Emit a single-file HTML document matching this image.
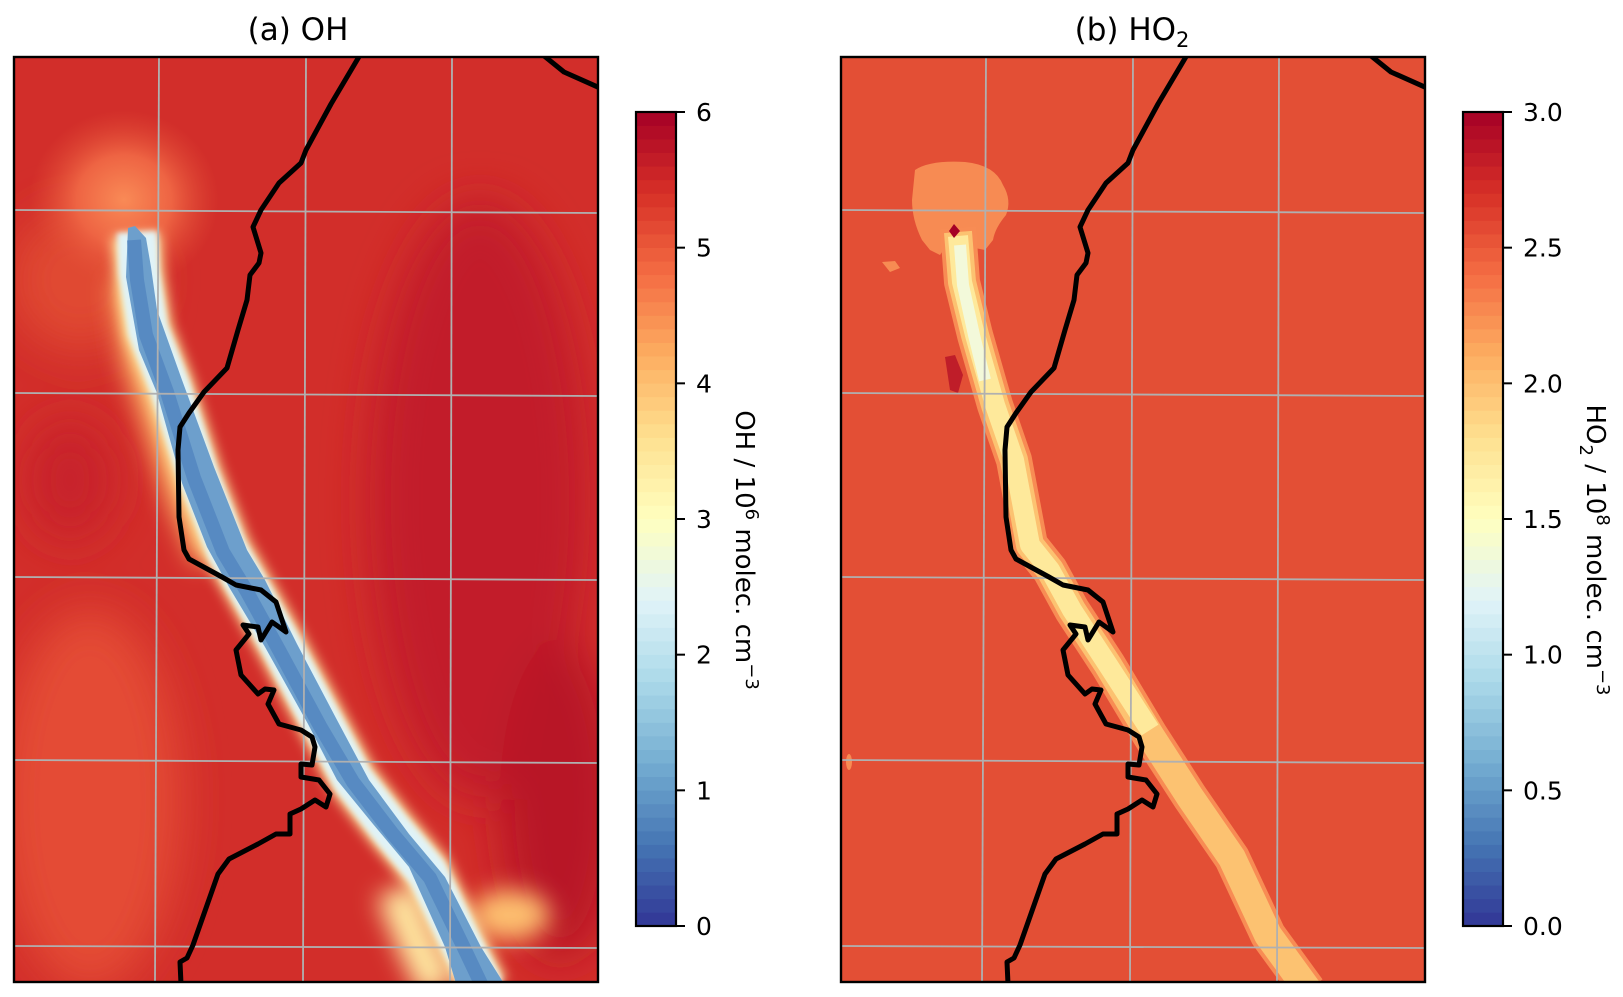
<!DOCTYPE html>
<html><head><meta charset="utf-8"><style>
html,body{margin:0;padding:0;background:#fff;}
svg{display:block;font-family:"DejaVu Sans","Liberation Sans",sans-serif;}
</style></head><body>
<svg id="fig" width="1623" height="997" viewBox="0 0 1623 997">
<defs>
<clipPath id="clipA"><rect x="14" y="57" width="584" height="925"/></clipPath>
<filter id="b6" x="-50%" y="-50%" width="200%" height="200%"><feGaussianBlur stdDeviation="6"/></filter>
<filter id="b12" x="-50%" y="-50%" width="200%" height="200%"><feGaussianBlur stdDeviation="12"/></filter>
<filter id="b20" x="-50%" y="-50%" width="200%" height="200%"><feGaussianBlur stdDeviation="22"/></filter>
<filter id="b3" x="-50%" y="-50%" width="200%" height="200%"><feGaussianBlur stdDeviation="3"/></filter>
<radialGradient id="glow"><stop offset="0" stop-color="#f98a56"/><stop offset="0.5" stop-color="#ee6443"/><stop offset="1" stop-color="#e04a33" stop-opacity="0"/></radialGradient>
</defs>

<text x="298" y="40" style="font-size:31px" text-anchor="middle" fill="#000">(a) OH</text>
<text x="1132" y="40" style="font-size:31px" text-anchor="middle" fill="#000">(b) HO<tspan style="font-size:21px" dy="7">2</tspan></text>

<g id="panelA" clip-path="url(#clipA)">
  <rect x="14" y="57" width="584" height="925" fill="#d22e2a"/>
  <g filter="url(#b20)">
    <ellipse cx="90" cy="800" rx="90" ry="190" fill="#e44c34"/>
    <ellipse cx="480" cy="500" rx="110" ry="300" fill="#c21e29"/>
    <ellipse cx="560" cy="800" rx="60" ry="160" fill="#b81628"/>
    <ellipse cx="70" cy="480" rx="45" ry="60" fill="#c8222a"/>
    <ellipse cx="80" cy="280" rx="70" ry="70" fill="#e04a33"/>
  </g>
  <ellipse cx="124" cy="200" rx="95" ry="90" fill="url(#glow)"/>
  <g filter="url(#b12)">
    <polyline points="125,280 136,360 156,420 182,500 208,560" fill="none" stroke="#fdb366" stroke-width="28"/>
    <polyline points="395,890 420,950 440,990" fill="none" stroke="#fee7a0" stroke-width="40"/>
    <ellipse cx="510" cy="915" rx="40" ry="25" fill="#fdbf6f"/>
  </g>
  <g filter="url(#b6)">
    <polyline points="136,235 139,272 148,330 170,387 198,475 227,550 247,585 281,645 322,722 353,780 391,829 427,872 463,947 485,990" fill="none" stroke="#fee9a0" stroke-width="48"/>
  </g>
  <g filter="url(#b3)">
    <polyline id="coreA" points="137,232 139,272 148,330 170,387 198,475 227,550 247,585 281,645 322,722 353,780 391,829 427,872 463,947 485,990" fill="none" stroke="#e0f3f8" stroke-width="40"/>
  </g>
  <polygon points="128,228 135,226 146,238 151,267 157,310 182,380 214,467 247,550 265,580 297,644 337,720 369,780 409,834 445,877 481,947 508,990 458,990 445,947 409,867 373,824 337,780 308,724 265,647 229,587 207,547 182,483 157,393 139,350 126,277" fill="#6d9fcc"/>
  <polyline points="134,240 137,280 146,335 167,392 194,478 223,552 246,590 279,650 320,726 353,782 392,833 430,878 465,950 484,990" fill="none" stroke="#4f81bd" stroke-width="14" opacity="0.7"/>
  <g id="gridA" stroke="#b0b0b0" stroke-width="1.8" fill="none">
    <line x1="159" y1="57" x2="155" y2="982"/><line x1="306" y1="57" x2="303" y2="982"/><line x1="452" y1="57" x2="450" y2="982"/>
    <line x1="14" y1="210" x2="598" y2="213"/><line x1="14" y1="393" x2="598" y2="396"/><line x1="14" y1="577" x2="598" y2="580"/><line x1="14" y1="760" x2="598" y2="763"/><line x1="14" y1="946" x2="598" y2="948"/>
  </g>
  <g id="coastA" stroke="#000" stroke-width="5" fill="none" stroke-linejoin="round">
    <polyline points="360,55 331,104 306,150 301,163 279,183 261,210 253,227 261,253 259,263 250,275 247,300 238,330 227,368 204,392 189,413 180,427 178,450 179,517 184,550 189,559 222,577 236,585 261,590 276,602 286,632 279,627 272,622 261,640 258,627 243,625 249,634 236,650 241,675 258,694 265,689 274,690 268,704 279,724 301,730 312,737 315,747 312,765 301,764 301,777 319,780 330,794 326,807 315,800 301,809 290,814 290,824 290,834 276,834 258,844 229,859 218,874 193,945 187,958 180,962 181,984"/>
    <polyline points="543,55 564,72 600,88"/>
  </g>
</g>
<rect x="14" y="57" width="584" height="925" fill="none" stroke="#000" stroke-width="2.4"/>

<clipPath id="clipB"><rect x="841" y="57" width="584" height="925"/></clipPath>
<g id="panelB" clip-path="url(#clipB)">
  <rect x="841" y="57" width="584" height="925" fill="#e34f35"/>
  <path d="M915,170 Q930,160 965,162 Q995,165 1003,185 Q1012,200 1006,215 Q995,228 993,240 L985,250 L975,248 L965,238 L950,240 L940,255 L930,250 L922,240 Q912,220 912,200 Z" fill="#f78b53"/>
  <path d="M882,262 L895,261 L900,268 L890,272 Z" fill="#f78b53"/>
  <path d="M945,357 L955,355 L963,375 L958,393 L950,390 Z" fill="#bf1d29"/>
  <ellipse cx="849" cy="762" rx="3" ry="8" fill="#f88b53"/>
  <polyline points="958,228 962,282 975,335 995,405 1014,460 1030,545 1050,570 1072,610 1108,665 1150,735 1190,797 1232,858 1268,935 1308,990" fill="none" stroke="#f88c54" stroke-width="36" stroke-linejoin="round"/>
  <polyline points="958,232 962,282 975,335 995,405 1014,460 1030,545 1050,570 1072,610 1108,665 1150,735 1190,797 1232,858 1268,935 1308,990" fill="none" stroke="#fcc271" stroke-width="28" stroke-linejoin="round"/>
  <polyline points="958,236 962,282 975,335 995,405 1014,460 1030,545 1050,570 1072,610 1108,665 1150,730" fill="none" stroke="#fee99b" stroke-width="20" stroke-linejoin="round"/>
  <polyline points="960,245 963,285 974,335 985,380" fill="none" stroke="#f3f9da" stroke-width="12" stroke-linejoin="round"/>
  <polygon points="949,231 954,224 960,231 954,238" fill="#a50026"/>
  <g stroke="#b0b0b0" stroke-width="1.8" fill="none">
    <line x1="986" y1="57" x2="982" y2="982"/><line x1="1133" y1="57" x2="1130" y2="982"/><line x1="1279" y1="57" x2="1277" y2="982"/>
    <line x1="841" y1="210" x2="1425" y2="213"/><line x1="841" y1="393" x2="1425" y2="396"/><line x1="841" y1="577" x2="1425" y2="580"/><line x1="841" y1="760" x2="1425" y2="763"/><line x1="841" y1="946" x2="1425" y2="948"/>
  </g>
  <use href="#coastA" transform="translate(827,0)"/>
</g>
<rect x="841" y="57" width="584" height="925" fill="none" stroke="#000" stroke-width="2.4"/>

<g id="cbA"></g>
<g id="cbB"></g>

<text transform="translate(736,550) rotate(90)" style="font-size:26px" text-anchor="middle">OH / 10<tspan style="font-size:18px" dy="-10">6</tspan><tspan dy="10"> molec. cm</tspan><tspan style="font-size:18px" dy="-10">−3</tspan></text>
<text transform="translate(1587,550) rotate(90)" style="font-size:26px" text-anchor="middle">HO<tspan style="font-size:18px" dy="7">2</tspan><tspan dy="-7"> / 10</tspan><tspan style="font-size:18px" dy="-10">8</tspan><tspan dy="10"> molec. cm</tspan><tspan style="font-size:18px" dy="-10">−3</tspan></text>
</svg>
<script>
const ohTicks = [0, 1, 2, 3, 4, 5, 6];
const ohTickLabels = ["0", "1", "2", "3", "4", "5", "6"];
const ho2Ticks = [0, 0.5, 1.0, 1.5, 2.0, 2.5, 3.0];
const ho2TickLabels = ["0.0", "0.5", "1.0", "1.5", "2.0", "2.5", "3.0"];
const ohRange = [0, 6];
const ho2Range = [0, 3];
const nLevels = 60;
const cmapStops = ["#313695","#4575b4","#74add1","#abd9e9","#e0f3f8","#ffffbf","#fee090","#fdae61","#f46d43","#d73027","#a50026"];

const NS = "http://www.w3.org/2000/svg";
function hex(h){return [1,3,5].map(i=>parseInt(h.substr(i,2),16));}
function cmap(t){
  t=Math.max(0,Math.min(1,t));
  const p=t*(cmapStops.length-1), i=Math.min(Math.floor(p),cmapStops.length-2), f=p-i;
  const a=hex(cmapStops[i]), b=hex(cmapStops[i+1]);
  return "rgb("+a.map((v,k)=>Math.round(v+(b[k]-v)*f)).join(",")+")";
}
function colorbar(gid, x, y0, y1, w, range, ticks, labels){
  const g=document.getElementById(gid);
  const sy=v=>y1-(v-range[0])/(range[1]-range[0])*(y1-y0);
  const step=(range[1]-range[0])/nLevels;
  for(let i=0;i<nLevels;i++){
    const v0=range[0]+i*step, v1=v0+step;
    const r=document.createElementNS(NS,"rect");
    r.setAttribute("x",x); r.setAttribute("y",sy(v1)-0.3);
    r.setAttribute("width",w); r.setAttribute("height",sy(v0)-sy(v1)+0.6);
    r.setAttribute("fill",cmap((i+0.5)/nLevels));
    
    
    g.appendChild(r);
  }
  const fr=document.createElementNS(NS,"rect");
  fr.setAttribute("x",x); fr.setAttribute("y",y0); fr.setAttribute("width",w); fr.setAttribute("height",y1-y0);
  fr.setAttribute("fill","none"); fr.setAttribute("stroke","#000"); fr.setAttribute("stroke-width","2.2");
  
  
  g.appendChild(fr);
  ticks.forEach((v,i)=>{
    const ty=sy(v);
    const l=document.createElementNS(NS,"line");
    l.setAttribute("x1",x+w); l.setAttribute("x2",x+w+9); l.setAttribute("y1",ty); l.setAttribute("y2",ty);
    l.setAttribute("stroke","#000"); l.setAttribute("stroke-width","2");
    
    
    g.appendChild(l);
    const t=document.createElementNS(NS,"text");
    t.setAttribute("x",x+w+20); t.setAttribute("y",ty+9);
    t.setAttribute("style","font-size:25px");
    t.textContent=labels[i];
    
    
    g.appendChild(t);
  });
}
colorbar("cbA", 636, 112, 926, 40, ohRange, ohTicks, ohTickLabels);
colorbar("cbB", 1463, 112, 926, 40, ho2Range, ho2Ticks, ho2TickLabels);
</script>
</body></html>
